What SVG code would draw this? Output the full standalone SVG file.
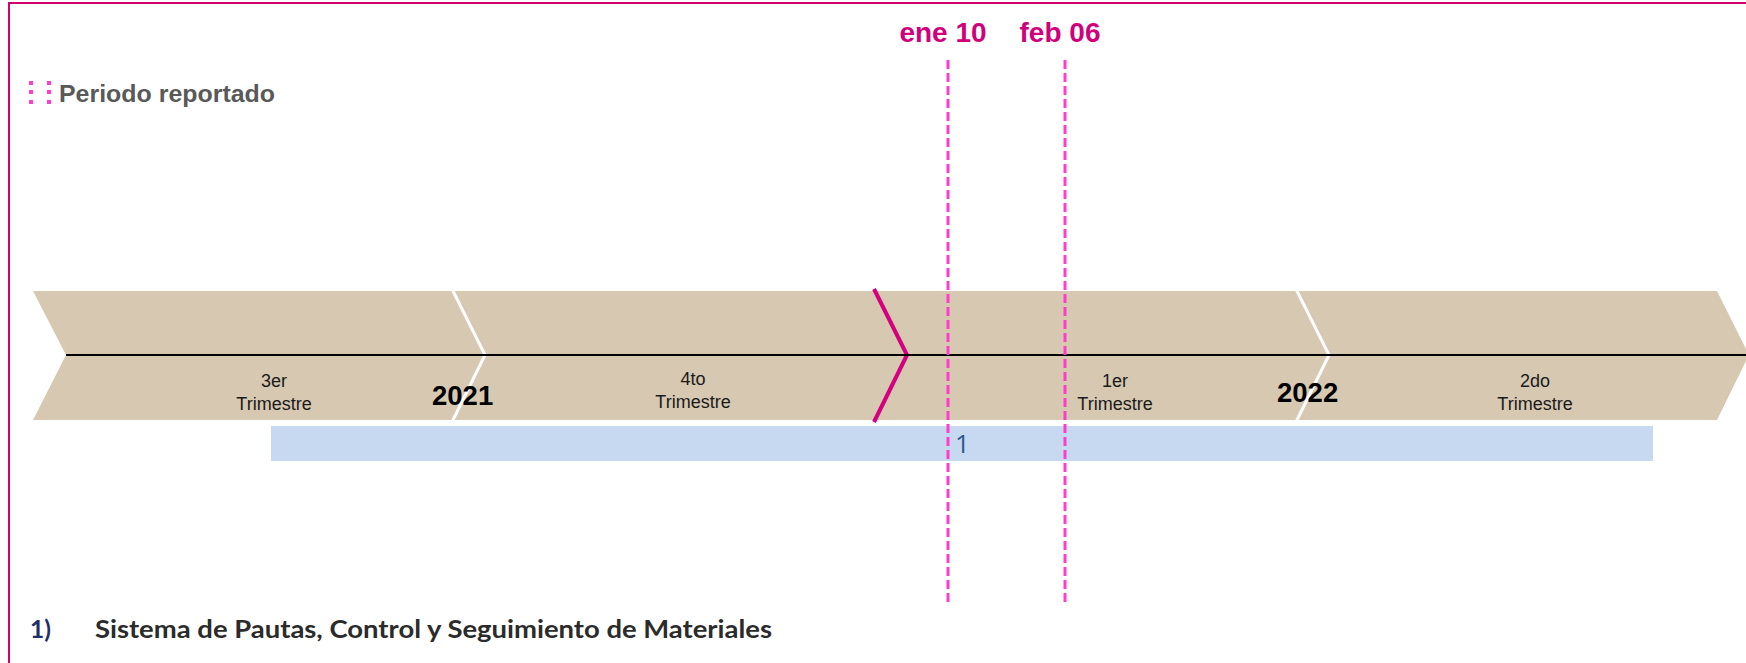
<svg xmlns="http://www.w3.org/2000/svg" width="1746" height="663" viewBox="0 0 1746 663">
  <style>
    .q { font-family: "Liberation Sans", Arial, sans-serif; font-size: 18px; fill: #1a1a1a; text-anchor: middle; }
    .yr { font-family: "Liberation Sans", Arial, sans-serif; font-size: 27.5px; font-weight: bold; fill: #000; }
    .date { font-family: "Liberation Sans", Arial, sans-serif; font-size: 28px; font-weight: bold; fill: #D0007C; text-anchor: middle; }
    .sep { fill: none; stroke: #ffffff; stroke-width: 3; }
    .dash { stroke: #FF3CCB; stroke-width: 3; stroke-dasharray: 9 4; fill: none; }
    .dot { fill: #FF3CCB; }
  </style>
  <rect x="0" y="0" width="1746" height="663" fill="#ffffff"/>
  <rect x="9" y="3" width="1800" height="720" fill="none" stroke="#D1006F" stroke-width="2"/>

  <g id="legend">
    <rect class="dot" x="29" y="81" width="4" height="4"/>
    <rect class="dot" x="29" y="90" width="4" height="4"/>
    <rect class="dot" x="29" y="100" width="4" height="4"/>
    <rect class="dot" x="47" y="81" width="4" height="4"/>
    <rect class="dot" x="47" y="90" width="4" height="4"/>
    <rect class="dot" x="47" y="100" width="4" height="4"/>
    <text x="59" y="102" font-family="'Liberation Sans', Arial, sans-serif" font-size="24" font-weight="bold" fill="#595959" textLength="216" lengthAdjust="spacingAndGlyphs">Periodo reportado</text>
  </g>

  <g id="timeline">
    <polygon points="33,291 1717,291 1749,355 1717,420 33,420 66,355" fill="#D7C8B1"/>
    <polyline class="sep" points="452,289 485,355 452,422"/>
    <polyline class="sep" points="1296,289 1329,355 1296,422"/>
    <polyline points="874,289 907,355 874,422" fill="none" stroke="#D4007F" stroke-width="4"/>
    <line x1="66" y1="355" x2="1746" y2="355" stroke="#000" stroke-width="2"/>
  </g>

  <g id="q3-2021">
    <text class="q" x="274" y="387">3er</text>
    <text class="q" x="274" y="410">Trimestre</text>
  </g>
  <g id="year-2021"><text class="yr" x="432" y="405">2021</text></g>
  <g id="q4-2021">
    <text class="q" x="693" y="385">4to</text>
    <text class="q" x="693" y="408">Trimestre</text>
  </g>
  <g id="q1-2022">
    <text class="q" x="1115" y="387">1er</text>
    <text class="q" x="1115" y="410">Trimestre</text>
  </g>
  <g id="year-2022"><text class="yr" x="1277" y="402">2022</text></g>
  <g id="q2-2022">
    <text class="q" x="1535" y="387">2do</text>
    <text class="q" x="1535" y="410">Trimestre</text>
  </g>

  <g id="task-1">
    <rect x="271" y="426" width="1382" height="35" fill="#C6D9F0"/>
    <text x="955" y="453" font-family="'Open Sans', 'Liberation Sans', sans-serif" font-size="26" fill="#2E5A8F">1</text>
  </g>

  <g id="markers">
    <line class="dash" x1="948" y1="60" x2="948" y2="604"/>
    <line class="dash" x1="1065" y1="60" x2="1065" y2="604"/>
    <text class="date" x="943" y="42">ene 10</text>
    <text class="date" x="1060" y="42">feb 06</text>
  </g>

  <g id="caption">
    <text x="30" y="638" font-family="Lato, 'Open Sans', sans-serif" font-size="24.5" font-weight="bold" fill="#1F3068">1)</text>
    <text x="95" y="638" font-family="Lato, 'Open Sans', sans-serif" font-size="24.5" font-weight="bold" fill="#2b2b2b" textLength="677" lengthAdjust="spacingAndGlyphs">Sistema de Pautas, Control y Seguimiento de Materiales</text>
  </g>
</svg>
